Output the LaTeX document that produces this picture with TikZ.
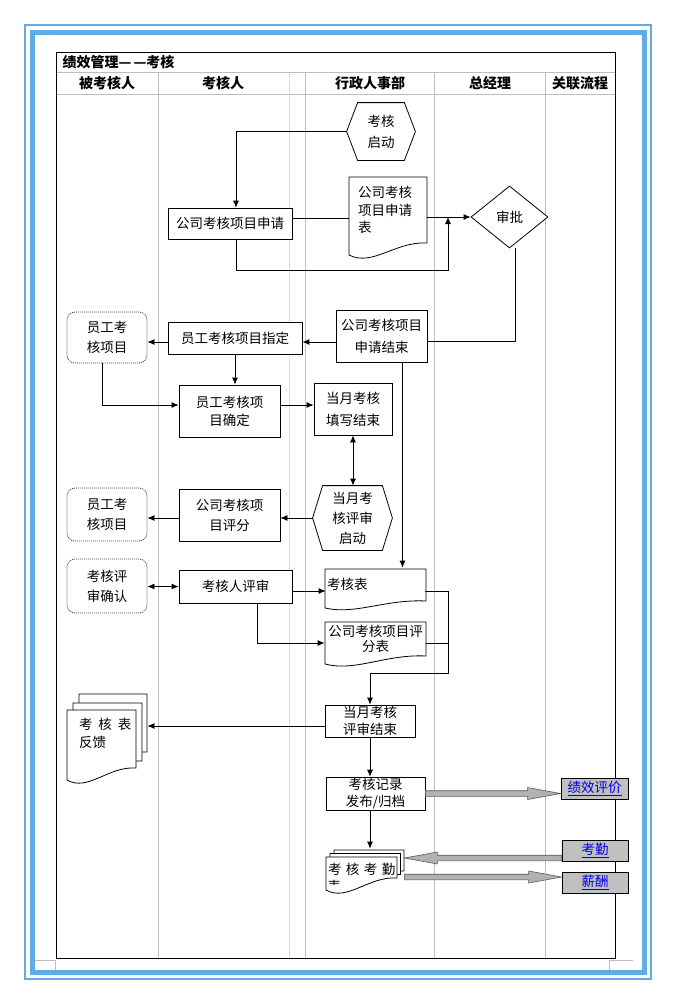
\documentclass[tikz,border=0pt]{standalone}
\usepackage{fontspec}
\setmainfont{Noto Sans CJK SC}
\usetikzlibrary{arrows.meta,shapes.geometric,calc}

\definecolor{frameblue}{RGB}{98,172,230}
\definecolor{lanegray}{RGB}{190,190,190}
\definecolor{linkgray}{RGB}{192,192,192}
\definecolor{arrgray}{RGB}{178,178,178}
\definecolor{linkblue}{RGB}{0,0,230}

\newcommand{\docpage}[5]{%
	\draw[fill=white] (#1,#2) -- (#3,#2) -- (#3,#4) .. controls ({#3-0.4*(#3-#1)},{#4-2}) and ({#1+0.3*(#3-#1)},{#4+2*#5}) .. (#1,{#4+#5}) -- cycle;}
\newcommand{\hexshape}[2]{%
	\draw (#1.west) -- ([xshift=#2]#1.north west) -- ([xshift=-#2]#1.north east) -- (#1.east) -- ([xshift=-#2]#1.south east) -- ([xshift=#2]#1.south west) -- cycle;}
\newcommand{\fatarrow}[2]{%
	\filldraw[fatarr] let \p1=(#1), \p2=(#2), \n1={sign(\x2-\x1)*33} in
		(\x1,{\y1+2.8pt}) -- ({\x2-\n1},{\y1+2.8pt}) -- ({\x2-\n1},{\y1+6pt}) -- (\x2,\y1) -- ({\x2-\n1},{\y1-6pt}) -- ({\x2-\n1},{\y1-2.8pt}) -- (\x1,{\y1-2.8pt}) -- cycle;}

\begin{document}
\begin{tikzpicture}[x=1pt,y=-1pt,line width=0.8pt,
	font=\fontsize{13.5}{20}\selectfont,
	box/.style={draw,fill=white,inner sep=1pt,align=center},
	dotbox/.style={draw=black!75,dash pattern=on 1pt off 1pt,rounded corners=8pt,fill=white,inner sep=1pt,align=center},
	docbox/.style={inner sep=1pt,align=center},
	hexbox/.style={inner sep=0pt,align=center},
	hdr/.style={font=\fontsize{14}{16}\selectfont\bfseries},
	linkbox/.style={draw,fill=linkgray,text=linkblue,minimum width=66pt,minimum height=21pt,inner sep=0pt},
	flow/.style={-{Latex[length=7pt,width=6pt]}},
	biflow/.style={{Latex[length=7pt,width=6pt]}-{Latex[length=7pt,width=6pt]}},
	fatarr/.style={fill=arrgray,draw=black!65,line width=0.6pt},
	lane/.style={lanegray,line width=0.8pt}]
	\useasboundingbox (0,0) rectangle (677,1005);
	\draw[frameblue,line width=2pt] (25,25) rectangle (651,979);
	\draw[frameblue,line width=5pt] (32.5,32.5) rectangle (644.5,972.5);
	\draw[lane] (56,72) -- (615,72);
	\draw[lane] (56,94) -- (616,94);
	\foreach \x in {158,305,434,545}
		\draw[lane] (\x,72) -- (\x,958);
	\draw[lane,dash pattern=on 1pt off 1pt] (289,72) -- (289,958);
	\draw[line width=1pt] (56,52) rectangle (615,958);
	\draw[lanegray,line width=0.6pt] (35,960) -- (55,960) -- (55,970);
	\draw[lanegray,line width=0.6pt] (633,960) -- (609,960) -- (609,970);
	\node[hdr,anchor=west] (title) at (59,62) {绩效管理—\hspace{2pt}—考核};
	\node[hdr] (lane1) at (107,83) {被考核人};
	\node[hdr] (lane2) at (223,83) {考核人};
	\node[hdr] (lane3) at (370,83) {行政人事部};
	\node[hdr] (lane4) at (490,83) {总经理};
	\node[hdr] (lane5) at (580,83) {关联流程};
	\docpage{349}{177}{427}{243}{12}
	\docpage{325}{569}{426}{601}{7}
	\docpage{325}{622}{426}{656}{8}
	\docpage{79}{694}{147}{752}{12}
	\docpage{73}{703}{142}{761}{12}
	\docpage{67}{710}{136}{768}{12}
	\docpage{334}{850}{404}{871}{12}
	\docpage{330}{853.5}{400.5}{874.5}{12}
	\docpage{326}{857}{397}{878}{12}
	\node[hexbox,minimum width=68pt,minimum height=57pt,font=\fontsize{13.5}{21}\selectfont] (start) at (381,131.5) {考核\\启动};
	\hexshape{start}{11pt}
	\node[box,minimum width=124pt,minimum height=31pt] (req) at (230,223.5) {公司考核项目申请};
	\node[docbox,text width=60pt,minimum width=78pt,minimum height=66pt,align=left,font=\fontsize{13.5}{17.5}\selectfont] (reqform) at (388,210) {公司考核\\项目申请\\表};
	\node[draw,fill=white,diamond,aspect=1.24,minimum width=77pt,minimum height=62pt,inner sep=0pt] (approve) at (509.5,217) {审批};
	\node[box,minimum width=91pt,minimum height=52pt,font=\fontsize{13.5}{22}\selectfont] (reqend) at (381.5,336) {公司考核项目\\申请结束};
	\node[box,minimum width=134pt,minimum height=32pt] (assign) at (235,338) {员工考核项目指定};
	\node[dotbox,minimum width=80pt,minimum height=51pt] (emp1) at (107,337.5) {员工考\\核项目};
	\node[box,minimum width=101pt,minimum height=52pt,font=\fontsize{13.5}{18}\selectfont] (confirm) at (229.5,411) {员工考核项\\目确定};
	\node[box,minimum width=78pt,minimum height=52pt,font=\fontsize{13.5}{22}\selectfont] (fill) at (353,409) {当月考核\\填写结束};
	\node[hexbox,minimum width=79pt,minimum height=64pt] (monthstart) at (352.5,518) {当月考\\核评审\\启动};
	\hexshape{monthstart}{10pt}
	\node[box,minimum width=101pt,minimum height=52pt] (score) at (229.5,515) {公司考核项\\目评分};
	\node[dotbox,minimum width=80pt,minimum height=53pt] (emp2) at (107,514.5) {员工考\\核项目};
	\node[dotbox,minimum width=80pt,minimum height=54pt] (revok) at (107,586) {考核评\\审确认};
	\node[box,minimum width=113pt,minimum height=33pt] (review) at (235.5,586.5) {考核人评审};
	\node[docbox,text width=97pt,align=left,minimum height=32pt] (kbiao) at (375.5,584) {考核表};
	\node[docbox,text width=99pt,minimum height=34pt,font=\fontsize{13.5}{15}\selectfont] (scoreform) at (375.5,639) {公司考核项目评\\分表};
	\node[box,minimum width=90pt,minimum height=32pt,font=\fontsize{13.5}{17}\selectfont] (monthend) at (370,721) {当月考核\\评审结束};
	\node[docbox,text width=56pt,inner xsep=12pt,minimum height=86pt,align=left,font=\fontsize{13.5}{18}\selectfont] (fb) at (107,733) {考\hspace{6pt}核\hspace{6pt}表\\反馈};
	\node[box,minimum width=99pt,minimum height=31pt,font=\fontsize{13.5}{17}\selectfont] (record) at (375.5,793.5) {考核记录\\发布/归档};
	\node[docbox,text width=74pt,minimum width=78pt,minimum height=41pt,align=left] (kqmd) at (365,869.5) {考 核 考 勤};
	\begin{scope}
		\clip (326,878) rectangle (397,884.5);
		\node[docbox,anchor=north west] (kqmdmore) at (326,879) {表};
	\end{scope}
	\node[linkbox,minimum width=67pt] (jx) at (594.5,788.5) {\underline{绩效评价}};
	\node[linkbox] (kq) at (595,850.5) {\underline{考勤}};
	\node[linkbox] (xc) at (595,882.5) {\underline{薪酬}};
	\coordinate (loop) at (448,270);
	\coordinate (merge) at (448,673);
	\coordinate (reqin) at ([xshift=6pt]req.north);
	\coordinate (reqout) at ([yshift=5.5pt]req.east);
	\coordinate (reqdown) at ([xshift=6pt]req.south);
	\coordinate (apout) at ([xshift=6pt]approve.south);
	\coordinate (endin) at ([yshift=-5pt]reqend.east);
	\coordinate (asin) at ([yshift=-4pt]assign.east);
	\coordinate (asout) at ([yshift=-4pt]assign.west);
	\coordinate (emdown) at ([xshift=-5pt]emp1.south);
	\coordinate (cfin) at ([yshift=6pt]confirm.west);
	\coordinate (cfout) at ([yshift=6pt]confirm.east);
	\coordinate (endout) at ([xshift=21pt]reqend.south);
	\coordinate (rvout) at ([yshift=-4.5pt]review.east);
	\coordinate (rvdown) at ([xshift=22pt]review.south);
	\coordinate (kbout) at ([yshift=-7pt]kbiao.east);
	\coordinate (sfin) at ([yshift=-4pt]scoreform.west);
	\coordinate (sfout) at ([yshift=-4pt]scoreform.east);
	\coordinate (meout) at ([yshift=-5pt]monthend.west);
	\coordinate (rcdown) at (monthend.south |- record.south);
	\coordinate (kqin) at ([yshift=-7.5pt]kq.west);
	\coordinate (xcin) at ([yshift=5.5pt]xc.west);
	\draw[flow] (start.west) -| (reqin);
	\draw (reqout) -- (reqout -| reqform.west);
	\draw[flow] (reqform.east |- approve.west) -- (approve.west);
	\draw[flow] (reqdown) |- (loop) -- (loop |- approve.west);
	\draw (apout) |- (endin);
	\draw[flow] (reqend.west |- asin) -- (asin);
	\draw[flow] (asout) -- (asout -| emp1.east);
	\draw[flow] (assign.south) -- (assign.south |- confirm.north);
	\draw[flow] (emdown) |- (cfin);
	\draw[flow] (cfout) -- (cfout -| fill.west);
	\draw[flow] (endout) -- (endout |- kbiao.north);
	\draw[biflow] (fill.south) -- (fill.south |- monthstart.north);
	\draw[flow] (monthstart.west) -- (monthstart.west -| score.east);
	\draw[flow] (score.west |- monthstart.west) -- (monthstart.west -| emp2.east);
	\draw[biflow] (review.west) -- (review.west -| revok.east);
	\draw[flow] (rvout) -- (rvout -| kbiao.west);
	\draw[flow] (rvdown) |- (sfin);
	\draw[flow] (kbout) -| (merge) -| (monthend.north);
	\draw (sfout) -- (sfout -| merge);
	\draw[flow] (meout) -- (meout -| fb.east);
	\draw[flow] (monthend.south) -- (monthend.south |- record.north);
	\draw[flow] (rcdown) -- (rcdown |- kqmd.north);
	\fatarrow{record.east}{record.east -| jx.west}
	\fatarrow{kqin}{kqin -| kqmd.east}
	\fatarrow{kqmd.east |- xcin}{xcin}
\end{tikzpicture}
\end{document}
